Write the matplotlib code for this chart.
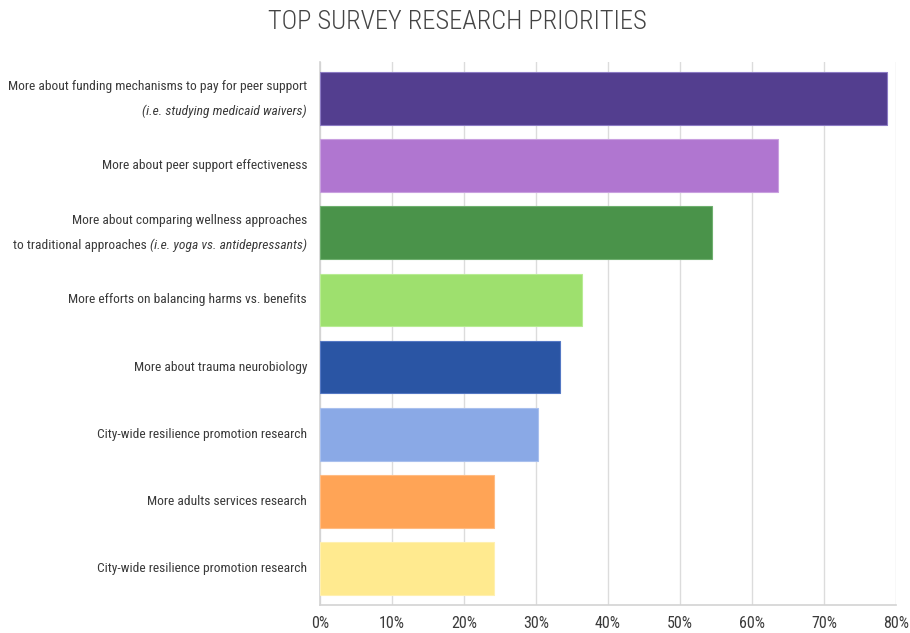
import matplotlib
matplotlib.use("Agg")
import matplotlib.pyplot as plt
from matplotlib import font_manager as fm
from matplotlib.transforms import blended_transform_factory

names = {f.name for f in fm.fontManager.ttflist}
FONT = None
for cand in ["Roboto Condensed", "Liberation Sans Narrow", "DejaVu Sans Condensed", "Roboto"]:
    if cand in names:
        FONT = cand
        break
plt.rcParams["font.family"] = [FONT, "DejaVu Sans"]

# ---- data ----
labels_main = [
    "More about funding mechanisms to pay for peer support",
    "More about peer support effectiveness",
    "More about comparing wellness approaches",
    "More efforts on balancing harms vs. benefits",
    "More about trauma neurobiology",
    "City-wide resilience promotion research",
    "More adults services research",
    "City-wide resilience promotion research",
]
values = [78.8, 63.6, 54.5, 36.4, 33.3, 30.3, 24.2, 24.2]
colors = ["#533E8F", "#B076D0", "#4A934A", "#9EE06E", "#2A55A4", "#8AA9E6", "#FFA456", "#FFEA8F"]
edge_colors = ["#8C7BC4", "#C9A0E0", "#6FB06F", "#B8EC94", "#5478C4", "#A9C0EE", "#FFBC84", "#FFF0B0"]
xticks = [0, 10, 20, 30, 40, 50, 60, 70, 80]
title = "TOP SURVEY RESEARCH PRIORITIES"

TXT = "#3a3a3a"
fig = plt.figure(figsize=(9.10, 6.33), dpi=100)
ax = fig.add_axes([320/910, 1-605/633, 576/910, (605-62)/633])

ypos = list(range(len(values)))
ax.barh(ypos, values, height=0.79, color=colors, edgecolor=edge_colors, linewidth=0.8, zorder=3)
ax.set_ylim(len(values) - 0.45, -0.55)
ax.set_xlim(0, 80)
ax.set_xticks(xticks)
ax.set_xticklabels([f"{t}%" for t in xticks], fontsize=11.5, color=TXT)
ax.set_yticks([])
ax.tick_params(axis="x", length=0, pad=8)
ax.grid(axis="x", color="#dcdcdc", linewidth=1, zorder=0)
for s in ["top", "right"]:
    ax.spines[s].set_visible(False)
for s in ["left", "bottom"]:
    ax.spines[s].set_color("#d3d3d3")
    ax.spines[s].set_linewidth(1.2)

trans = blended_transform_factory(fig.transFigure, ax.transData)
xr = 307/910
fs = 9.7
dy = 0.19
for i, lab in enumerate(labels_main):
    if i == 0:
        ax.text(xr, i - dy, lab, transform=trans, ha="right", va="center", fontsize=fs, color=TXT)
        ax.text(xr, i + dy, "(i.e. studying medicaid waivers)", transform=trans, ha="right",
                va="center", fontsize=fs, color=TXT, style="italic")
    elif i == 2:
        ax.text(xr, i - dy, lab, transform=trans, ha="right", va="center", fontsize=fs, color=TXT)
        it = ax.text(xr, i + dy, "(i.e. yoga vs. antidepressants)", transform=trans, ha="right",
                     va="center", fontsize=fs, color=TXT, style="italic")
        ax.annotate("to traditional approaches ", xy=(0, 0.5), xycoords=it, ha="right", va="center",
                    fontsize=fs, color=TXT)
    else:
        ax.text(xr, i, lab, transform=trans, ha="right", va="center", fontsize=fs, color=TXT)

fig.text(0.503, 0.966, title, ha="center", va="center", fontsize=19, color="#444444",
         fontweight="light")

fig.savefig("out.png", dpi=100)
